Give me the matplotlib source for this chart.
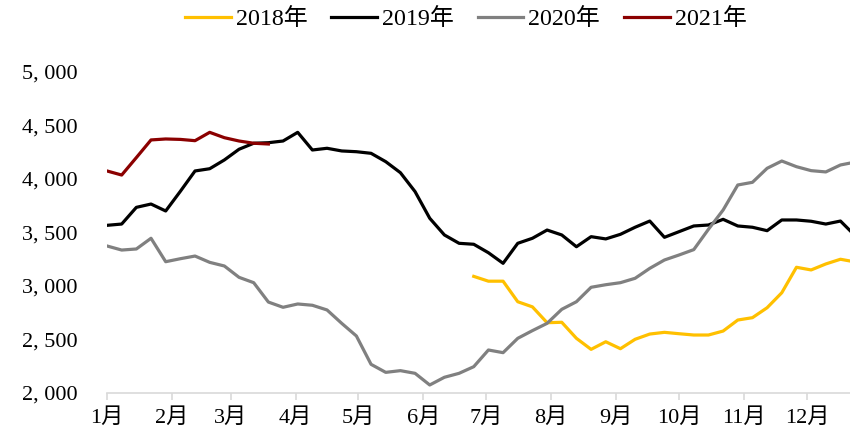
import numpy as np
import matplotlib
matplotlib.use("Agg")
import matplotlib.pyplot as plt
from matplotlib.ticker import FuncFormatter

plt.rcParams['font.family'] = ['Liberation Serif', 'Noto Sans CJK SC', 'DejaVu Sans']

# weekly values, x = week number counted from Jan 1
s2018_start = 25
s2018 = [3090, 3045, 3045, 2853, 2805, 2657, 2661, 2511, 2408, 2479,
         2414, 2502, 2551, 2567, 2554, 2542, 2542, 2579, 2682, 2704,
         2797, 2937, 3175, 3150, 3206, 3250, 3225]

s2019 = [3567, 3579, 3735, 3766, 3701, 3885, 4075, 4096, 4178, 4278,
         4334, 4339, 4355, 4436, 4271, 4287, 4262, 4255, 4240, 4162,
         4059, 3882, 3633, 3477, 3399, 3390, 3311, 3212, 3399, 3446,
         3523, 3477, 3367, 3461, 3440, 3483, 3549, 3607, 3455, 3508,
         3561, 3570, 3623, 3561, 3549, 3517, 3617, 3617, 3605, 3579,
         3607, 3470]

s2020 = [3374, 3336, 3346, 3446, 3227, 3255, 3280, 3221, 3187, 3081,
         3031, 2850, 2801, 2832, 2820, 2776, 2651, 2533, 2268, 2193,
         2209, 2184, 2075, 2147, 2184, 2246, 2402, 2377, 2511, 2583,
         2651, 2782, 2853, 2988, 3012, 3031, 3072, 3165, 3243, 3290,
         3340, 3530, 3710, 3944, 3969, 4100, 4168, 4115, 4078, 4066,
         4131, 4158]

s2021 = [4075, 4037, 4200, 4365, 4374, 4370, 4358, 4436, 4386, 4355,
         4334, 4327]

months = ['1月', '2月', '3月', '4月', '5月', '6月',
          '7月', '8月', '9月', '10月', '11月', '12月']
month_days = [0, 31, 59, 90, 120, 151, 181, 212, 243, 273, 304, 334]

fig = plt.figure(figsize=(8.5, 4.36), dpi=100)
ax = fig.add_axes([0.1259, 0.0986, 0.8741, 0.7363])

lw = 2.3
ax.plot(np.arange(len(s2018)) + s2018_start, s2018, color='#FFC000', lw=lw, label='2018年')
ax.plot(np.arange(len(s2019)), s2019, color='#000000', lw=lw, label='2019年')
ax.plot(np.arange(len(s2020)), s2020, color='#808080', lw=lw, label='2020年')
ax.plot(np.arange(len(s2021)), s2021, color='#8B0000', lw=lw, label='2021年')

ax.set_xlim(0, 50.65)
ax.set_ylim(2000, 5000)
ax.set_yticks(np.arange(2000, 5001, 500))
ax.yaxis.set_major_formatter(FuncFormatter(lambda v, p: f"{int(v):,}".replace(",", ", ")))
ax.set_xticks([d / 7 for d in month_days])
ax.set_xticklabels(months)

for side in ['left', 'right', 'top']:
    ax.spines[side].set_visible(False)
ax.spines['bottom'].set_color('#D9D9D9')
ax.spines['bottom'].set_linewidth(1.2)
ax.tick_params(axis='x', direction='out', length=5, width=1.2, color='#D9D9D9',
               labelsize=16, pad=6)
ax.tick_params(axis='y', length=0, labelsize=16, pad=21.5)

fig.legend(loc='center', bbox_to_anchor=(0.548, 0.956), ncol=4, frameon=False,
           fontsize=17.3, handlelength=1.9, handletextpad=0.2, columnspacing=1.0)

fig.savefig('out.png', dpi=100)
